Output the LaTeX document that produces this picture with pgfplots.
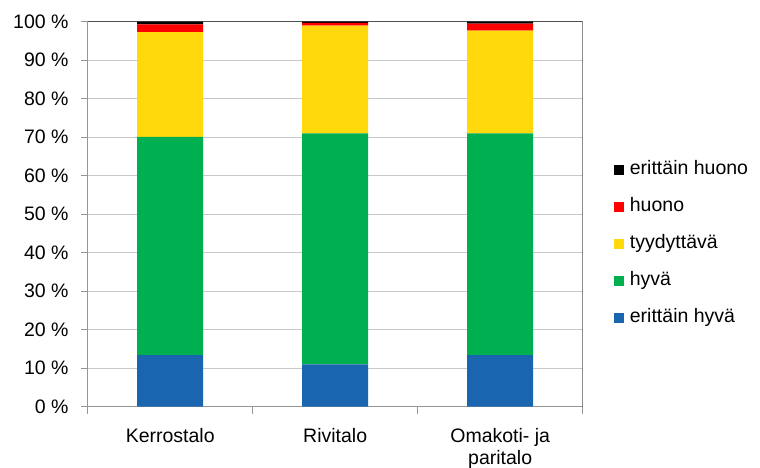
\documentclass[border=0pt]{standalone}
\usepackage{pgfplots}
\pgfplotsset{compat=1.18}
\usepackage{fontspec}
\setmainfont{Liberation Sans}
\definecolor{cblue}{RGB}{26,101,176}
\definecolor{cgreen}{RGB}{0,176,80}
\definecolor{cyellow}{RGB}{255,217,12}
\definecolor{cred}{RGB}{255,0,0}
\definecolor{cblack}{RGB}{0,0,0}
\definecolor{gridc}{RGB}{200,200,200}
\definecolor{axisc}{RGB}{150,150,150}
\definecolor{framec}{RGB}{80,80,80}
\begin{document}
\begin{tikzpicture}[font=\fontsize{19.5}{22}\selectfont]
\useasboundingbox (0,0) rectangle (760pt,468pt);
\begin{axis}[
  at={(87.7pt,61.3pt)}, anchor=south west,
  scale only axis, width=495pt, height=385pt,
  ybar stacked, bar width=0.4,
  xmin=-0.5, xmax=2.5, ymin=0, ymax=100,
  axis x line*=bottom, axis y line*=left,
  axis line style={draw=axisc, line width=1.3pt},
  xtick={-0.5,0.5,1.5,2.5}, xticklabels={},
  extra x ticks={0,1,2},
  extra x tick labels={Kerrostalo, Rivitalo, {Omakoti- ja\\paritalo}},
  extra x tick style={major tick length=0pt, tick style={draw=none},
     tick label style={align=center, anchor=north, yshift=-21pt, inner sep=0pt}},
  ytick={0,10,...,100},
  yticklabels={0 \%,10 \%,20 \%,30 \%,40 \%,50 \%,60 \%,70 \%,80 \%,90 \%,100 \%},
  yticklabel style={inner xsep=0pt, xshift=-12pt},
  tick align=outside, major tick length=7pt,
  tick style={draw=axisc, line width=1.2pt},
  ymajorgrids, major grid style={draw=gridc, line width=1.3pt},
  draw=none,
  legend style={at={(1,0.423)}, anchor=west, xshift=31pt, draw=none, fill=none,
    inner sep=0pt, row sep=19pt,
    nodes={inner xsep=1pt, inner ysep=0pt, text height=14pt, text depth=4pt, anchor=west},
    /tikz/every odd column/.append style={column sep=5pt}},
  legend cell align=left,
  reverse legend,
  legend image code/.code={\fill[#1] (0pt,-5pt) rectangle (10pt,5pt);},
]
\addplot[fill=cblue, draw=none] coordinates {(0,13.4) (1,11.0) (2,13.4)};
\addplot[fill=cgreen, draw=none] coordinates {(0,56.7) (1,60.0) (2,57.6)};
\addplot[fill=cyellow, draw=none] coordinates {(0,27.2) (1,28.0) (2,26.7)};
\addplot[fill=cred, draw=none] coordinates {(0,2.0) (1,0.7) (2,1.8)};
\addplot[fill=cblack, draw=none] coordinates {(0,0.7) (1,0.3) (2,0.5)};
\legend{erittäin hyvä, hyvä, tyydyttävä, huono, erittäin huono}
\draw[framec, line width=1.3pt] (rel axis cs:0,1) -- (rel axis cs:1,1) -- (rel axis cs:1,0);
\end{axis}
\end{tikzpicture}
\end{document}
